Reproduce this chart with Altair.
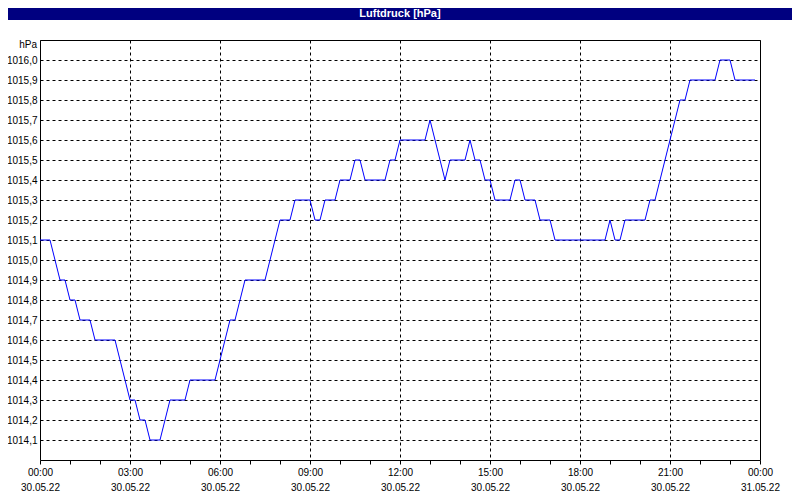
import json
import altair as alt
import pandas as pd

# ---- data ----
title_text = "Luftdruck [hPa]"
unit_label = "hPa"
time_labels = ["00:00", "03:00", "06:00", "09:00", "12:00", "15:00", "18:00", "21:00", "00:00"]
date_labels = ["30.05.22"] * 8 + ["31.05.22"]
hour_ticks = list(range(0, 25))
y_ticks = [1014.1, 1014.2, 1014.3, 1014.4, 1014.5, 1014.6, 1014.7, 1014.8, 1014.9, 1015.0,
           1015.1, 1015.2, 1015.3, 1015.4, 1015.5, 1015.6, 1015.7, 1015.8, 1015.9, 1016.0]

# one reading every 10 minutes, 00:00 .. 23:50
pressure = [
    1015.1, 1015.1, 1015.1, 1015.0, 1014.9, 1014.9, 1014.8, 1014.8, 1014.7, 1014.7,
    1014.7, 1014.6, 1014.6, 1014.6, 1014.6, 1014.6, 1014.5, 1014.4, 1014.3, 1014.3,
    1014.2, 1014.2, 1014.1, 1014.1, 1014.1, 1014.2, 1014.3, 1014.3, 1014.3, 1014.3,
    1014.4, 1014.4, 1014.4, 1014.4, 1014.4, 1014.4, 1014.5, 1014.6, 1014.7, 1014.7,
    1014.8, 1014.9, 1014.9, 1014.9, 1014.9, 1014.9, 1015.0, 1015.1, 1015.2, 1015.2,
    1015.2, 1015.3, 1015.3, 1015.3, 1015.3, 1015.2, 1015.2, 1015.3, 1015.3, 1015.3,
    1015.4, 1015.4, 1015.4, 1015.5, 1015.5, 1015.4, 1015.4, 1015.4, 1015.4, 1015.4,
    1015.5, 1015.5, 1015.6, 1015.6, 1015.6, 1015.6, 1015.6, 1015.6, 1015.7, 1015.6,
    1015.5, 1015.4, 1015.5, 1015.5, 1015.5, 1015.5, 1015.6, 1015.5, 1015.5, 1015.4,
    1015.4, 1015.3, 1015.3, 1015.3, 1015.3, 1015.4, 1015.4, 1015.3, 1015.3, 1015.3,
    1015.2, 1015.2, 1015.2, 1015.1, 1015.1, 1015.1, 1015.1, 1015.1, 1015.1, 1015.1,
    1015.1, 1015.1, 1015.1, 1015.1, 1015.2, 1015.1, 1015.1, 1015.2, 1015.2, 1015.2,
    1015.2, 1015.2, 1015.3, 1015.3, 1015.4, 1015.5, 1015.6, 1015.7, 1015.8, 1015.8,
    1015.9, 1015.9, 1015.9, 1015.9, 1015.9, 1015.9, 1016.0, 1016.0, 1016.0, 1015.9,
    1015.9, 1015.9, 1015.9, 1015.9,
]
sample_minutes = [10 * i for i in range(len(pressure))]

df = pd.DataFrame({"hour": [m / 60 for m in sample_minutes], "hPa": pressure})
one = pd.DataFrame({"a": [0]})

NAVY = "#000080"
FONT = "Liberation Sans"

x_label_expr = (
    "datum.value % 3 === 0 ? ["
    + json.dumps(time_labels) + "[datum.value/3], "
    + json.dumps(date_labels) + "[datum.value/3]] : ''"
)

line = alt.Chart(df).mark_line(color="#0000FF", strokeWidth=1).encode(
    x=alt.X(
        "hour:Q",
        scale=alt.Scale(domain=[0, 24], nice=False, zero=False),
        axis=alt.Axis(
            title=None,
            values=hour_ticks,
            labelExpr=x_label_expr,
            labelOverlap=False,
            labelFlush=False,
            labelBound=False,
            labelBaseline="top",
            labelLineHeight=15,
            labelPadding=3,
            labelFont=FONT,
            labelFontSize=10,
            labelColor="black",
            tickSize=4,
            tickColor="black",
            domain=False,
            grid=True,
            gridColor="black",
            gridDash=[3, 3],
            gridWidth=1,
            gridOpacity={"condition": {"test": "datum.value % 3 === 0", "value": 1}, "value": 0},
        ),
    ),
    y=alt.Y(
        "hPa:Q",
        scale=alt.Scale(domain=[1014.0, 1016.1], nice=False, zero=False),
        axis=alt.Axis(
            title=None,
            values=y_ticks,
            labelExpr="replace(format(datum.value, '.1f'), '.', ',')",
            labelOverlap=False,
            labelFlush=False,
            labelPadding=3,
            labelFont=FONT,
            labelFontSize=10,
            labelColor="black",
            ticks=False,
            domain=False,
            grid=True,
            gridColor="black",
            gridDash=[3, 3],
            gridWidth=1,
            gridOpacity=1,
        ),
    ),
)

title_bar = alt.Chart(one).mark_rect(color=NAVY).encode(
    x=alt.value(-32), x2=alt.value(752), y=alt.value(-32), y2=alt.value(-20)
)
title_txt = alt.Chart(one).mark_text(
    color="white", font=FONT, fontSize=11, fontWeight="bold", align="center", baseline="middle"
).encode(x=alt.value(360), y=alt.value(-26), text=alt.value(title_text))
unit_txt = alt.Chart(one).mark_text(
    color="black", font=FONT, fontSize=10, align="right", baseline="middle"
).encode(x=alt.value(-3), y=alt.value(5), text=alt.value(unit_label))

chart = alt.layer(
    line, title_bar, title_txt, unit_txt
).properties(
    width=720,
    height=420,
    autosize=alt.AutoSizeParams(type="none"),
    padding={"left": 32, "top": 32, "right": 32, "bottom": 32},
    background="white",
).configure_view(stroke="black", strokeWidth=1)

chart.save("out.html", embed_options={"renderer": "svg", "actions": False})
